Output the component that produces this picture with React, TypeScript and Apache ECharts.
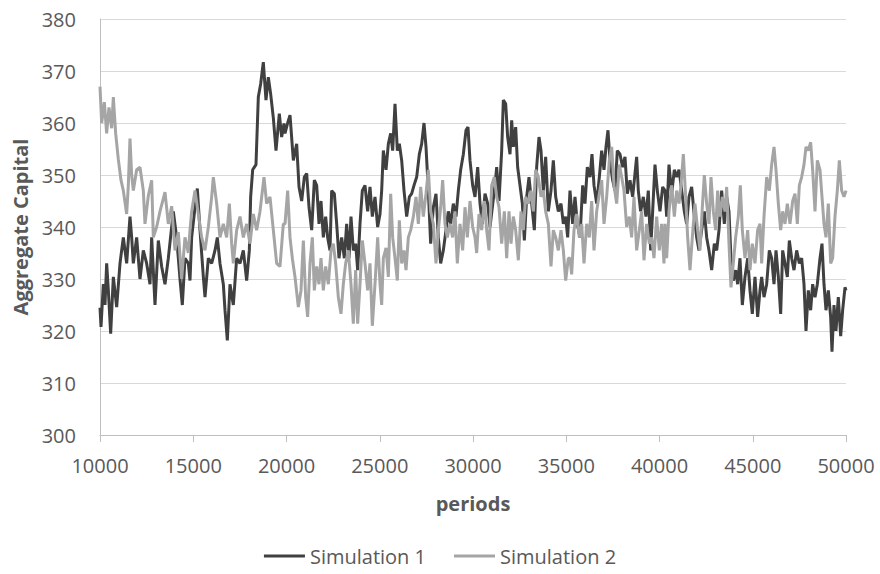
import React, { useEffect, useRef } from "react";
import * as echarts from "echarts";

// Period stamps and aggregate-capital readings for each simulation run
const sim1Periods = [
  10000, 10054, 10179, 10268, 10357, 10447, 10572, 10715, 10894, 11072, 11251, 11430, 11608, 11698, 11787, 11966, 12144, 12323, 12502, 12681, 12770, 12949, 13127, 13306, 13485, 13663, 13931, 14110, 14289, 14414, 14557, 14736,
  14826, 14915, 15094, 15219, 15362, 15541, 15630, 15809, 15988, 16166, 16291, 16434, 16613, 16702, 16827, 16970, 17149, 17328, 17507, 17685, 17864, 18007, 18078, 18186, 18364, 18489, 18614, 18757, 18900, 19025, 19150, 19294, 19437, 19615, 19740, 19865,
  19920, 20063, 20188, 20367, 20545, 20671, 20814, 20956, 21082, 21207, 21350, 21493, 21618, 21743, 21850, 21975, 22100, 22207, 22332, 22422, 22565, 22690, 22815, 22958, 23101, 23226, 23351, 23458, 23583, 23708, 23816, 23941, 24066, 24209, 24352, 24477, 24602, 24745, 24888,
  25014, 25103, 25193, 25336, 25461, 25586, 25693, 25818, 25943, 26050, 26176, 26301, 26444, 26587, 26712, 26837, 26980, 27123, 27248, 27373, 27480, 27605, 27730, 27873, 28016, 28141, 28266, 28409, 28552, 28677, 28802, 28945, 29088, 29213, 29339, 29482, 29625, 29732, 29839, 29982,
  30108, 30251, 30376, 30501, 30644, 30787, 30912, 31037, 31180, 31270, 31395, 31538, 31627, 31752, 31859, 31984, 32074, 32163, 32288, 32395, 32520, 32646, 32753, 32878, 33003, 33146, 33289, 33414, 33539, 33646, 33771, 33896, 34039, 34182, 34307, 34433, 34576, 34719, 34844, 34969, 35076,
  35201, 35344, 35469, 35594, 35737, 35880, 36005, 36130, 36273, 36380, 36488, 36631, 36774, 36899, 37024, 37131, 37238, 37345, 37488, 37613, 37739, 37882, 38024, 38150, 38275, 38418, 38561, 38686, 38775, 38864, 38989, 39132, 39275, 39400, 39526, 39633, 39758, 39883, 40026, 40169,
  40295, 40384, 40509, 40652, 40795, 40920, 41046, 41189, 41331, 41457, 41582, 41725, 41868, 41993, 42118, 42261, 42404, 42529, 42654, 42797, 42940, 43065, 43190, 43333, 43476, 43601, 43726, 43833, 43958, 44083, 44191, 44316, 44441, 44584, 44727, 44852, 44977, 45120, 45263,
  45389, 45478, 45603, 45746, 45889, 46014, 46140, 46247, 46372, 46497, 46604, 46729, 46854, 46962, 47087, 47212, 47355, 47498, 47623, 47748, 47855, 47980, 48105, 48212, 48338, 48463, 48606, 48713, 48820, 48927, 49052, 49177, 49249, 49356, 49463, 49588, 49714, 49821, 49946, 50000,
];
const sim1Values = [
  324.5, 320.8, 329, 325, 333, 327.8, 319.5, 330.4, 324.6, 333, 338, 333, 342, 338, 333, 338, 330, 335.5, 333, 329, 338, 325, 337.4, 332.4, 329, 334, 343, 338, 330, 325, 334, 333,
  329.7, 338, 343.8, 347.4, 339.4, 330.4, 326.5, 334, 333, 335.5, 338, 333, 329, 324, 318.2, 329, 325, 334, 333, 335.5, 329.7, 335.5, 345.8, 351, 352, 365, 367.5, 371.7, 364.4, 368.8, 365.6, 361, 354.7, 361.8, 357.3, 359.9,
  358, 360, 361.5, 352.8, 356, 347.7, 345, 349.6, 350.3, 343.8, 339.4, 349, 348, 340.6, 345, 338, 342, 338, 335.5, 347, 346.4, 340.6, 334, 338, 334, 340.6, 334, 342, 335.5, 336.8, 331.7, 340.6, 347, 348, 343, 347.7, 342, 345.8, 340,
  342.5, 347, 354.7, 351, 356, 358, 354.7, 363.7, 354.7, 356, 352.8, 347, 342, 345.8, 346.4, 348, 349.6, 354, 356, 360, 355.4, 347, 336.8, 343.8, 346.4, 338, 333, 335.5, 339.4, 343, 340.6, 344.5, 342, 347, 351, 354, 358.6, 359.2, 352.8, 348,
  345.8, 351.5, 344.5, 340.6, 346.4, 344.5, 340, 343.8, 348, 351.5, 345, 354.7, 364.4, 363.7, 357.3, 354, 360.5, 355.4, 359.2, 351.5, 348, 344.5, 337.4, 345.8, 349.6, 344.5, 339.4, 351.5, 357.3, 354.7, 347, 353.5, 343, 347, 352.8, 345.8, 343, 344.5, 340.6, 342, 338,
  347, 340.6, 345.8, 340.6, 338, 348, 344.5, 351.5, 349.6, 354, 348, 344.5, 349.6, 354.7, 351, 355.4, 358.6, 352.8, 349, 347, 354.7, 354, 351.5, 353.5, 346.4, 349, 345.8, 350.3, 353.5, 347, 343, 345.8, 342, 347, 335.5, 343, 352, 347, 343, 347.7,
  347, 342, 352, 346.4, 351, 349.6, 351, 347, 343, 340.6, 345.8, 347.7, 342, 338, 335.5, 339.4, 343, 338, 335.5, 331.7, 336.8, 335.5, 339.4, 347, 340.6, 345.8, 343, 334, 329.7, 331.7, 329, 334, 325, 330.4, 334, 327.8, 323.3, 330.4, 322.7,
  327.8, 330.4, 326.5, 329, 335.5, 334, 329, 335.5, 330.4, 323.3, 335.5, 333, 330.4, 337.4, 334, 331.7, 335.5, 333, 334, 329, 320, 327.8, 324, 329, 326.5, 329, 334, 336.8, 329, 324, 327.8, 322.7, 316, 325, 320, 326.5, 319, 324, 328.4, 327.8,
];

const sim2Periods = [
  10000, 10089, 10232, 10357, 10482, 10625, 10715, 10840, 10983, 11126, 11251, 11430, 11519, 11608, 11698, 11787, 11966, 12144, 12323, 12412, 12591, 12770, 12859, 13038, 13217, 13485, 13663, 13842, 14021, 14199, 14378, 14557, 14736,
  14826, 14915, 15094, 15273, 15451, 15630, 15809, 15988, 16077, 16256, 16434, 16613, 16792, 16935, 17060, 17149, 17328, 17507, 17685, 17864, 18043, 18221, 18400, 18579, 18793, 18936, 19115, 19294, 19472, 19651, 19830,
  19920, 20063, 20188, 20313, 20456, 20635, 20778, 20903, 21028, 21135, 21260, 21385, 21493, 21618, 21743, 21850, 21975, 22100, 22243, 22386, 22511, 22636, 22779, 22922, 23047, 23172, 23315, 23458, 23583, 23708, 23816, 23941, 24066, 24209, 24352, 24477, 24602, 24745, 24888,
  25014, 25103, 25193, 25336, 25461, 25586, 25693, 25818, 25943, 26050, 26176, 26301, 26408, 26533, 26659, 26802, 26944, 27069, 27195, 27337, 27480, 27605, 27730, 27873, 28016, 28141, 28266, 28373, 28498, 28623, 28766, 28909, 29034, 29159, 29303, 29446, 29571, 29696, 29839, 29982,
  30108, 30197, 30322, 30465, 30608, 30733, 30858, 31001, 31144, 31270, 31395, 31538, 31681, 31806, 31931, 32038, 32163, 32288, 32431, 32574, 32699, 32824, 32967, 33110, 33235, 33360, 33503, 33646, 33771, 33896, 34039, 34182, 34307, 34433, 34576, 34719, 34844, 34969, 35112,
  35201, 35290, 35415, 35558, 35701, 35826, 35952, 36095, 36237, 36363, 36488, 36631, 36774, 36899, 37024, 37167, 37310, 37435, 37560, 37703, 37846, 37971, 38096, 38239, 38382, 38507, 38632, 38775, 38918, 39043, 39168, 39311, 39454, 39579, 39704, 39847, 39990, 40115, 40240,
  40295, 40384, 40509, 40652, 40795, 40920, 41046, 41153, 41278, 41403, 41510, 41635, 41760, 41903, 42046, 42171, 42296, 42404, 42529, 42654, 42761, 42886, 43011, 43118, 43244, 43369, 43512, 43601, 43726, 43833, 43958, 44083, 44226, 44334, 44441, 44584, 44727, 44852, 44977, 45120, 45263,
  45389, 45478, 45603, 45746, 45889, 46014, 46140, 46247, 46372, 46497, 46604, 46729, 46854, 46997, 47140, 47265, 47390, 47498, 47623, 47748, 47855, 47980, 48105, 48212, 48338, 48463, 48606, 48713, 48820, 48927, 49052, 49177, 49284, 49409, 49535, 49642, 49767, 49892, 50000,
];
const sim2Values = [
  367, 360, 364, 358, 363, 359, 365, 358, 353, 349, 347, 342.5, 348, 357, 350, 347, 351, 351.5, 347, 340.6, 346, 349, 338, 340, 343, 346.7, 340.6, 344, 335.5, 339, 330, 338, 335,
  339.4, 343, 347, 342.5, 338, 335.5, 340, 345.8, 349.6, 344.5, 338, 340.6, 338, 344.5, 336.8, 333, 339.4, 342, 338, 340.6, 336.8, 342.5, 339.4, 343, 349.6, 344.5, 345.8, 339.4, 333, 332.4, 340.6,
  340.6, 347, 338, 334, 330.4, 324.6, 327.8, 337.4, 326.5, 322.7, 333, 338, 327.8, 332.4, 329, 334, 327.8, 332.4, 329, 335.5, 336.8, 333, 326.5, 323.3, 329, 333, 335.5, 329, 321.4, 331.7, 321.4, 329, 337.4, 333, 327.8, 333, 321, 329, 338,
  329, 325, 334, 336, 330.4, 346.4, 338, 334, 329.7, 341.3, 333, 335.5, 331.7, 338, 339.4, 342, 345.8, 340.6, 347.7, 342, 346.4, 351, 343, 340.6, 333, 339.4, 343.8, 349, 340.6, 338, 340.6, 338, 343, 333, 340.6, 335.5, 343.8, 338, 345, 340,
  338, 335, 342.5, 339.4, 345, 339.4, 335.5, 348, 349.6, 345.8, 343.8, 336.8, 343, 334, 343, 336.8, 342, 339.4, 333.6, 343, 339.4, 345.8, 344.5, 347, 343, 351, 349.6, 345.8, 347, 343, 340.6, 332.4, 339.4, 338, 335.5, 339.4, 335.5, 329.7, 334,
  334, 330.9, 339.4, 342.5, 338, 340.6, 333, 340.6, 338, 345, 335.5, 343, 346.4, 349, 340.6, 345.8, 352.8, 355.4, 348, 344.5, 352, 349.6, 347, 340, 342, 338, 345.8, 335.5, 339.4, 343, 333.6, 340.6, 336.8, 338, 334, 342, 335.5, 340.6, 333,
  340.6, 334, 343, 348, 342, 347, 344.5, 348, 354, 345.8, 338, 331.7, 338, 344.5, 339.4, 335.5, 343.8, 350, 344.5, 340.6, 349.6, 343, 339.4, 347, 342, 345.8, 343, 347.7, 336.8, 328.4, 333, 338, 342, 348, 339.4, 334, 339.4, 331.7, 336.8, 333, 339.4,
  340.6, 333, 342, 349.6, 347, 352, 355.4, 351, 344.5, 339.4, 343, 340.6, 344.5, 340.6, 345, 346.4, 340.6, 348, 349.6, 352, 355.4, 354.7, 356.3, 351, 343, 352.8, 351, 345.8, 340.6, 338, 344.5, 333, 334, 342, 347, 352.8, 347, 345.8, 347,
];

const seriesNames = ["Simulation 1", "Simulation 2"];
const seriesColors = ["#404040", "#a5a5a5"];

const pairs = (xs: number[], ys: number[]) => {
  const n = Math.min(xs.length, ys.length);
  const out: number[][] = [];
  for (let i = 0; i < n; i++) out.push([xs[i], ys[i]]);
  return out;
};

const FONT = "'Open Sans', 'Liberation Sans', sans-serif";
const TEXT = "#595959";

export default function App() {
  const ref = useRef<HTMLDivElement>(null);

  useEffect(() => {
    if (!ref.current) return;
    const chart = echarts.init(ref.current, undefined, { renderer: "svg" });
    chart.setOption({
      animation: false,
      backgroundColor: "#ffffff",
      grid: { left: 100, right: 34, top: 19, bottom: 139, containLabel: false },
      legend: {
        top: 545,
        left: "center",
        padding: 0,
        itemWidth: 41,
        itemHeight: 3,
        itemGap: 28,
        icon: "rect",
        textStyle: { color: TEXT, fontSize: 20, lineHeight: 22, fontFamily: FONT },
        data: seriesNames,
      },
      xAxis: {
        type: "value",
        min: 10000,
        max: 50000,
        interval: 5000,
        name: "periods",
        nameLocation: "middle",
        nameGap: 58,
        nameTextStyle: { color: TEXT, fontSize: 20, fontWeight: "bold", fontFamily: FONT },
        axisLine: { show: true, lineStyle: { color: "#bfbfbf", width: 1 } },
        axisTick: { show: true, inside: false, length: 7, lineStyle: { color: "#bfbfbf", width: 1 } },
        splitLine: { show: false },
        axisLabel: {
          color: TEXT,
          fontSize: 20,
          fontFamily: FONT,
          margin: 20,
          formatter: (v: number) => String(v),
        },
      },
      yAxis: {
        type: "value",
        min: 300,
        max: 380,
        interval: 10,
        name: "Aggregate Capital",
        nameLocation: "middle",
        nameGap: 68,
        nameRotate: 90,
        nameTextStyle: { color: TEXT, fontSize: 20, fontWeight: "bold", fontFamily: FONT },
        axisLine: { show: true, lineStyle: { color: "#bfbfbf", width: 1 } },
        axisTick: { show: false },
        splitLine: { show: true, lineStyle: { color: "#d9d9d9", width: 1 } },
        axisLabel: { color: TEXT, fontSize: 20, fontFamily: FONT, margin: 24 },
      },
      series: [
        {
          name: seriesNames[0],
          type: "line",
          data: pairs(sim1Periods, sim1Values),
          showSymbol: false,
          symbol: "none",
          lineStyle: { color: seriesColors[0], width: 3 },
          itemStyle: { color: seriesColors[0] },
        },
        {
          name: seriesNames[1],
          type: "line",
          data: pairs(sim2Periods, sim2Values),
          showSymbol: false,
          symbol: "none",
          lineStyle: { color: seriesColors[1], width: 3 },
          itemStyle: { color: seriesColors[1] },
        },
      ],
    });
    return () => chart.dispose();
  }, []);

  return (
    <div
      ref={ref}
      style={{ position: "fixed", left: 0, top: 0, width: 880, height: 574, background: "#fff" }}
    />
  );
}
